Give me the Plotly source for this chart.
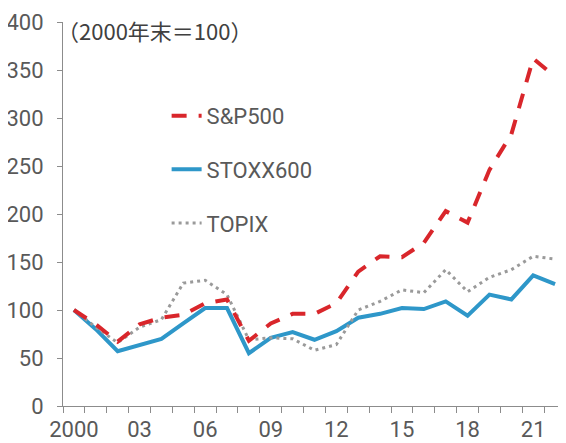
import plotly.graph_objects as go

years = list(range(2000, 2023))
sp500 = [100, 85, 67, 85, 92, 95, 107, 111, 68, 86, 96, 96, 107, 140, 156, 155, 170, 203, 191, 246, 283, 362, 343]
stoxx600 = [100, 80, 57, 64, 70, 86, 102, 102, 55, 71, 77, 69, 78, 92, 96, 102, 101, 109, 94, 116, 111, 136, 127]
topix = [100, 82, 66, 82, 90, 128, 131, 116, 69, 71, 70, 58, 64, 100, 109, 121, 118, 142, 119, 134, 142, 156, 153]
tick_years = [2000, 2003, 2006, 2009, 2012, 2015, 2018, 2021]
tick_text = ["2000", "03", "06", "09", "12", "15", "18", "21"]

FONT = "Roboto"
TXT = "#595959"
AX = "#8c8c8c"

fig = go.Figure()
fig.add_trace(go.Scatter(x=years, y=stoxx600, mode="lines", name="STOXX600",
                         legendrank=2, legendgroup="b",
                         line=dict(color="#2e97c9", width=4)))
fig.add_trace(go.Scatter(x=years, y=topix, mode="lines", name="TOPIX",
                         legendrank=3, legendgroup="c",
                         line=dict(color="#9a9a9a", width=3, dash="3px,4px")))
fig.add_trace(go.Scatter(x=years, y=sp500, mode="lines", name="S&P500",
                         legendrank=1, legendgroup="a",
                         line=dict(color="#d9262b", width=4, dash="15px,12px")))

fig.update_layout(
    width=566, height=443,
    margin=dict(l=55, r=8, t=14, b=45, autoexpand=False),
    paper_bgcolor="white", plot_bgcolor="white",
    font=dict(family=FONT, color=TXT, size=22),
    showlegend=True,
    legend=dict(x=0.206, y=0.81, xanchor="left", yanchor="top",
                bgcolor="rgba(0,0,0,0)", font=dict(size=22, color=TXT),
                tracegroupgap=22),
    annotations=[dict(text="（2000年末＝100）", xref="paper", yref="paper",
                      x=-0.016, y=0.978, xanchor="left", yanchor="middle",
                      showarrow=False,
                      font=dict(family="Noto Sans CJK JP", size=22, color="#404040"))],
)
fig.update_yaxes(range=[0, 400], dtick=50, tick0=0, showgrid=False, zeroline=False,
                 showline=True, linecolor=AX, linewidth=1, automargin=False,
                 ticks="outside", ticklen=5, tickcolor=AX,
                 ticklabelstandoff=9, tickfont=dict(size=22, color=TXT, family=FONT))
fig.update_xaxes(range=[1999.5, 2022.5], tickmode="array", tickvals=tick_years,
                 ticktext=tick_text, showgrid=False, zeroline=False, automargin=False,
                 showline=True, linecolor=AX, linewidth=1, ticks="",
                 ticklabelstandoff=4,
                 minor=dict(tickmode="linear", tick0=1999.5, dtick=1,
                            ticks="outside", ticklen=6, tickcolor=AX, showgrid=False),
                 tickfont=dict(size=22, color=TXT, family=FONT))

fig.write_html("out.html")
